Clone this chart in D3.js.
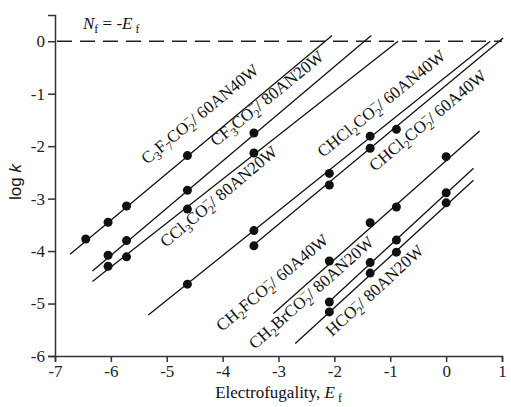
<!DOCTYPE html>
<html>
<head>
<meta charset="utf-8">
<script src="https://cdn.jsdelivr.net/npm/d3@7"></script>
<style>
  body { margin: 0; background: #fff; }
  .axis path, .axis line { stroke: #333; stroke-width: 1.5; }
  .axis text { fill: #222; }
</style>
</head>
<body>
<div id="chart-area"></div>
<script>
// electrofugality values of the points (Ef) and log k, one array per system
var seriesNames = [
  "C_3F_7CO_2^−/ 60AN40W",
  "CF_3CO_2^−/ 80AN20W",
  "CCl_3CO_2^−/ 80AN20W",
  "CHCl_2CO_2^−/ 60AN40W",
  "CHCl_2CO_2^−/ 60A40W",
  "CH_2FCO_2^−/ 60A40W",
  "CH_2BrCO_2^−/ 80AN20W",
  "HCO_2^−/ 80AN20W"
];

var c3f7_E = [-6.45, -6.05, -5.72, -4.63];
var c3f7_k = [-3.77, -3.45, -3.14, -2.18];
var cf3_E = [-6.05, -5.72, -4.63, -3.44];
var cf3_k = [-4.08, -3.80, -2.84, -1.75];
var ccl3_E = [-6.05, -5.72, -4.63, -3.44];
var ccl3_k = [-4.29, -4.11, -3.20, -2.13];
var chcl2a_E = [-4.63, -3.44, -2.09, -1.36];
var chcl2a_k = [-4.63, -3.61, -2.52, -1.81];
var chcl2b_E = [-3.44, -2.09, -1.36, -0.89];
var chcl2b_k = [-3.90, -2.74, -2.04, -1.68];
var ch2f_E = [-2.09, -1.36, -0.89, 0];
var ch2f_k = [-4.19, -3.46, -3.16, -2.20];
var ch2br_E = [-2.09, -1.36, -0.89, 0];
var ch2br_k = [-4.97, -4.22, -3.79, -2.89];
var hco2_E = [-2.09, -1.36, -0.89, 0];
var hco2_k = [-5.16, -4.42, -4.02, -3.08];

// correlation lines: [Ef start, log k start, Ef end, log k end]
var fitLines = [
  [-6.73, -4.06, -2.04, 0.11],
  [-6.33, -4.38, -1.34, 0.11],
  [-6.33, -4.58, -0.86, 0.00],
  [-5.33, -5.22, 0.79, 0.00],
  [-3.51, -3.94, 1.02, 0.06],
  [-3.09, -5.19, 0.60, -1.71],
  [-2.11, -4.98, 0.49, -2.42],
  [-2.70, -5.76, 0.49, -2.65]
];

var xTicks = [-7, -6, -5, -4, -3, -2, -1, 0, 1];
var yTicks = [-6, -5, -4, -3, -2, -1, 0];

var pointsE = [c3f7_E, cf3_E, ccl3_E, chcl2a_E, chcl2b_E, ch2f_E, ch2br_E, hco2_E];
var pointsK = [c3f7_k, cf3_k, ccl3_k, chcl2a_k, chcl2b_k, ch2f_k, ch2br_k, hco2_k];

// label placement (pixel start of the rotated text) and angle
var labelPos = [[147, 165], [216, 147], [166, 248], [323, 158], [375, 172], [222, 332], [255, 350], [332, 337]];
var labelAngle = [-39.5, -39, -40, -39, -40, -40, -41.5, -42.5];

var margin = {top: 15, right: 9, bottom: 51, left: 55};
var width = 511 - margin.left - margin.right,
    height = 407 - margin.top - margin.bottom;

var svg = d3.select("#chart-area").append("svg")
    .attr("width", 511)
    .attr("height", 407)
  .append("g")
    .attr("transform", "translate(" + margin.left + "," + margin.top + ")");

var x = d3.scaleLinear().domain([-7, 1]).range([0, width]);
var y = d3.scaleLinear().domain([-6, 0.5]).range([height, 0]);

// axes
svg.append("g")
    .attr("class", "axis")
    .attr("transform", "translate(0," + height + ")")
    .call(d3.axisBottom(x).tickValues(xTicks).tickSizeOuter(0).tickSize(6).tickPadding(3)
      .tickFormat(function(d) { return String(d); }))
    .attr("font-family", "Liberation Serif")
    .attr("font-size", 17);

svg.append("g")
    .attr("class", "axis")
    .call(d3.axisLeft(y).tickValues(yTicks).tickSizeOuter(0).tickSize(7).tickPadding(3)
      .tickFormat(function(d) { return String(d); }))
    .attr("font-family", "Liberation Serif")
    .attr("font-size", 17);

// dashed Nf = -Ef line
svg.append("line")
    .attr("x1", x(-7) + 2).attr("x2", x(1))
    .attr("y1", y(0)).attr("y2", y(0))
    .attr("stroke", "#222")
    .attr("stroke-width", 1.6)
    .attr("stroke-dasharray", "15,8");

// fit lines
svg.selectAll(".fit")
    .data(fitLines)
  .enter().append("line")
    .attr("class", "fit")
    .attr("x1", function(d) { return x(d[0]); })
    .attr("y1", function(d) { return y(d[1]); })
    .attr("x2", function(d) { return x(d[2]); })
    .attr("y2", function(d) { return y(d[3]); })
    .attr("stroke", "#111")
    .attr("stroke-width", 1.3);

// points
var pts = [];
pointsE.forEach(function(arr, i) {
  arr.forEach(function(e, j) { pts.push({E: e, k: pointsK[i][j]}); });
});

svg.selectAll(".dot")
    .data(pts)
  .enter().append("circle")
    .attr("class", "dot")
    .attr("cx", function(d) { return x(d.E); })
    .attr("cy", function(d) { return y(d.k); })
    .attr("r", 4.5)
    .attr("fill", "#111");

// rotated labels with subscripts
function addFormula(sel, str) {
  var tokens = [], cur = "";
  for (var i = 0; i < str.length; i++) {
    var c = str[i];
    if (c == "_" || c == "^") {
      if (cur) { tokens.push({t: cur, type: "base"}); cur = ""; }
      tokens.push({t: str[i + 1], type: c == "_" ? "sub" : "sup"});
      i++;
    } else cur += c;
  }
  if (cur) tokens.push({t: cur, type: "base"});

  var shift = 0;
  tokens.forEach(function(tk) {
    var ts = sel.append("tspan").text(tk.t);
    if (tk.type == "sub") {
      ts.attr("dy", 4 - shift).attr("font-size", 12);
      shift = 4;
    } else if (tk.type == "sup") {
      ts.attr("dy", -7 - shift).attr("dx", -6.5).attr("font-size", 12);
      shift = -7;
    } else {
      ts.attr("dy", -shift);
      shift = 0;
    }
  });
}

var labels = svg.selectAll(".lab")
    .data(seriesNames)
  .enter().append("text")
    .attr("class", "lab")
    .attr("font-family", "Liberation Serif")
    .attr("font-size", 17)
    .attr("fill", "#111")
    .attr("transform", function(d, i) {
      return "translate(" + (labelPos[i][0] - margin.left) + "," + (labelPos[i][1] - margin.top) + ") rotate(" + labelAngle[i] + ")";
    });

labels.each(function(d) { addFormula(d3.select(this), d); });

// Nf = -Ef
var nf = svg.append("text")
    .attr("x", 83 - margin.left)
    .attr("y", 29 - margin.top)
    .attr("font-family", "Liberation Serif")
    .attr("font-size", 17)
    .attr("fill", "#111");
nf.append("tspan").attr("font-style", "italic").text("N");
nf.append("tspan").attr("font-size", 12).attr("dy", 4).text("f");
nf.append("tspan").attr("dy", -4).text(" = -");
nf.append("tspan").attr("font-style", "italic").text("E");
nf.append("tspan").attr("font-size", 12).attr("dy", 4).text(" f");

// axis titles
var xl = svg.append("text")
    .attr("x", width / 2)
    .attr("y", height + 42)
    .attr("text-anchor", "middle")
    .attr("font-family", "Liberation Serif")
    .attr("font-size", 17)
    .attr("fill", "#111");
xl.append("tspan").text("Electrofugality, ");
xl.append("tspan").attr("font-style", "italic").text("E");
xl.append("tspan").attr("font-size", 12).attr("dy", 4).text(" f");

var yl = svg.append("text")
    .attr("transform", "translate(" + (21 - margin.left) + "," + (182 - margin.top) + ") rotate(-90)")
    .attr("text-anchor", "middle")
    .attr("font-family", "Liberation Sans")
    .attr("font-size", 17)
    .attr("fill", "#111");
yl.append("tspan").text("log ");
yl.append("tspan").attr("font-style", "italic").text("k");
</script>
</body>
</html>
